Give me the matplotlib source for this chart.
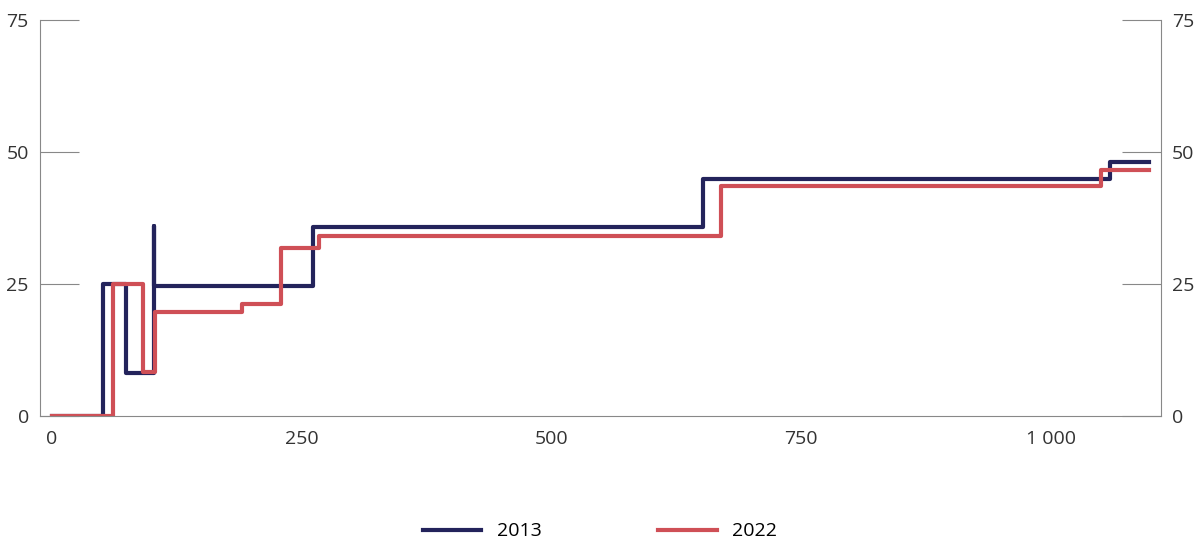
import matplotlib
matplotlib.use("Agg")
import matplotlib.pyplot as plt

x2013 = [0, 51, 74, 102, 102, 261, 652, 1059, 1098]
y2013 = [0, 25, 8, 36, 24.6, 35.8, 44.8, 48, 48]
x2022 = [0, 61, 91, 103, 190, 229, 267, 670, 1050, 1098]
y2022 = [0, 25, 8.2, 19.6, 21.1, 31.8, 34.1, 43.5, 46.5, 46.5]

plt.rcParams['font.family'] = ['Open Sans', 'DejaVu Sans']
fig = plt.figure(figsize=(12, 5.58), dpi=100)
ax = fig.add_axes([0.0333, 0.255, 0.934, 0.71])
c1, c2 = '#23235b', '#cf4f56'
ax.step(x2013, y2013, where='post', color=c1, lw=3, label='2013')
ax.step(x2022, y2022, where='post', color=c2, lw=3, label='2022')
ax.set_xlim(-12, 1110)
ax.set_ylim(0, 75)
ax.set_xticks([0, 250, 500, 750, 1000])
ax.set_xticklabels(['0', '250', '500', '750', '1 000'])
ax.set_yticks([0, 25, 50, 75])
for s in ['top']:
    ax.spines[s].set_visible(False)
for s in ['left', 'right', 'bottom']:
    ax.spines[s].set_color('#888888')
ax.tick_params(axis='y', direction='in', length=28, color='#888888', labelsize=14,
               left=True, right=True, labelleft=True, labelright=True, pad=8)
ax.tick_params(axis='x', length=0, labelsize=14, pad=10, colors='#333333')
ax.tick_params(axis='y', labelcolor='#333333')
fig.legend(loc='lower center', ncol=2, frameon=False, fontsize=14,
           bbox_to_anchor=(0.5, 0.0), handlelength=3, columnspacing=6)
fig.savefig('out.png', dpi=100)
